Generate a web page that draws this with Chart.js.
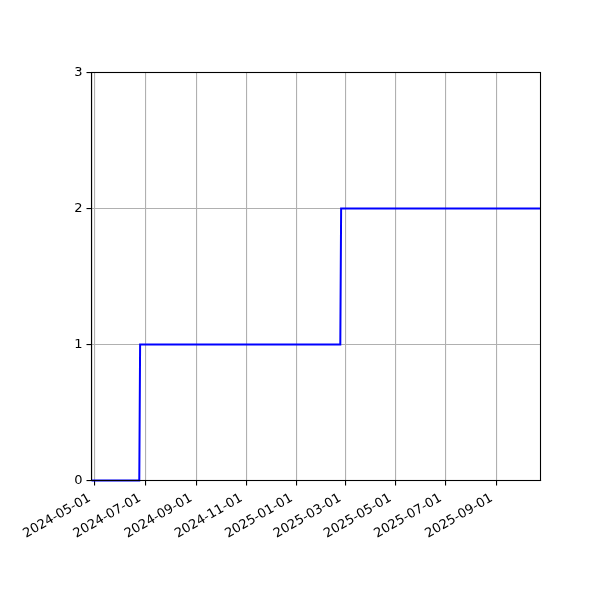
<!DOCTYPE html>
<html lang="en">
<head>
  <meta charset="UTF-8">
  <title>Step chart</title>
  <style>
    html, body { margin: 0; padding: 0; background: #fff; }
    .grafico { width: 600px; height: 600px; }
  </style>
</head>
<body>
  <div class="grafico">
    <canvas id="myChart" width="600" height="600"></canvas>
  </div>

<script src="https://cdn.jsdelivr.net/npm/chart.js"></script>
<script>
  // dados (contagem acumulada)
  const datas = ['2024-04-27', '2024-06-24', '2024-06-25', '2025-02-23', '2025-02-24', '2025-10-24'];
  const valores = [0, 0, 1, 1, 2, 2];
  const ticksX = ['2024-05-01', '2024-07-01', '2024-09-01', '2024-11-01', '2025-01-01',
    '2025-03-01', '2025-05-01', '2025-07-01', '2025-09-01'];
  const ticksY = [0, 1, 2, 3];

  function paraMs(s) {
    const p = s.split('-');
    return Date.UTC(+p[0], +p[1] - 1, +p[2]);
  }

  function formatar(ms) {
    const d = new Date(ms);
    const m = String(d.getUTCMonth() + 1).padStart(2, '0');
    const dia = String(d.getUTCDate()).padStart(2, '0');
    return `${d.getUTCFullYear()}-${m}-${dia}`;
  }

  const pontos = datas.map((d, i) => ({ x: paraMs(d), y: valores[i] }));

  // moldura em volta da área do gráfico (por cima da linha, como no matplotlib)
  const moldura = {
    id: 'moldura',
    afterDatasetsDraw(chart) {
      const a = chart.chartArea;
      const ctx = chart.ctx;
      ctx.save();
      ctx.strokeStyle = '#000';
      ctx.lineWidth = 1.1;
      ctx.strokeRect(a.left, a.top, a.right - a.left, a.bottom - a.top);
      ctx.restore();
    }
  };

  const fonte = { family: 'DejaVu Sans', size: 13 };

  const config = {
    type: 'line',
    data: {
      datasets: [{
        data: pontos,
        borderColor: '#0000ff',
        borderWidth: 2,
        pointRadius: 0,
        tension: 0,
        fill: false,
        clip: 2
      }]
    },
    options: {
      responsive: false,
      animation: false,
      layout: { padding: { left: 0, top: 72.5, right: 59.5, bottom: 0 } },
      plugins: { legend: { display: false }, tooltip: { enabled: false } },
      scales: {
        x: {
          type: 'linear',
          min: pontos[0].x,
          max: pontos[pontos.length - 1].x,
          afterBuildTicks(scale) {
            scale.ticks = ticksX.map(t => ({ value: paraMs(t) }));
          },
          afterFit(scale) { scale.height = 119.5; },
          ticks: {
            color: '#000',
            font: fonte,
            minRotation: 30,
            maxRotation: 30,
            autoSkip: false,
            padding: 5,
            labelOffset: -5,
            callback: v => formatar(v)
          },
          grid: { color: '#b0b0b0', lineWidth: 1.1, tickColor: '#000', tickLength: 5 },
          border: { color: '#000', width: 1.1 }
        },
        y: {
          min: 0,
          max: 3,
          afterBuildTicks(scale) {
            scale.ticks = ticksY.map(v => ({ value: v }));
          },
          afterFit(scale) { scale.width = 91.5; },
          ticks: { color: '#000', font: fonte, padding: 4 },
          grid: { color: '#b0b0b0', lineWidth: 1.1, tickColor: '#000', tickLength: 5 },
          border: { color: '#000', width: 1.1 }
        }
      }
    },
    plugins: [moldura]
  };

  let myChart = new Chart(document.getElementById('myChart'), config);
</script>
</body>
</html>
